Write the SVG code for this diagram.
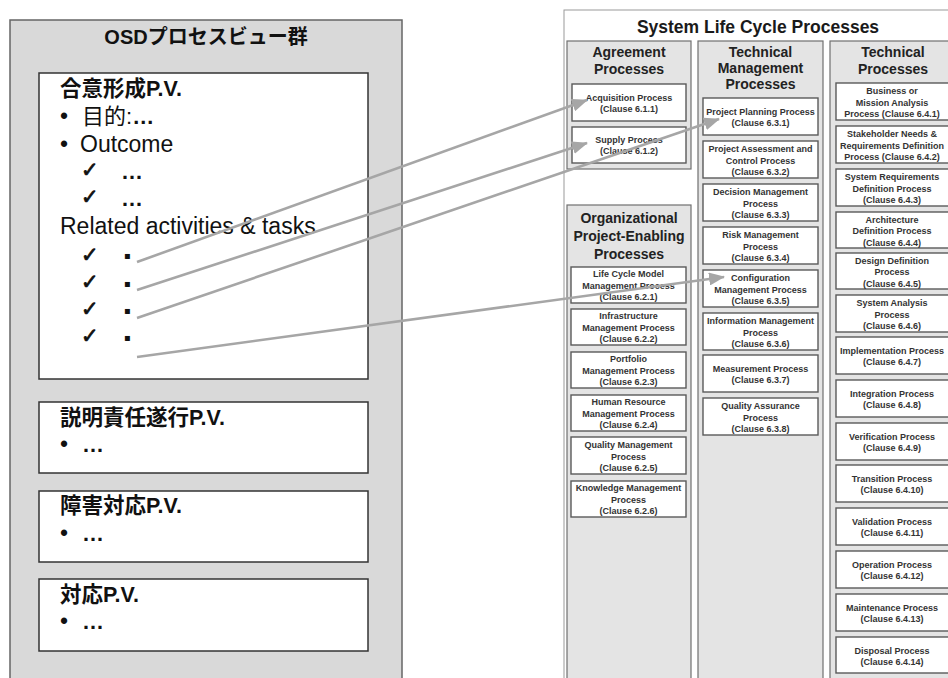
<svg xmlns="http://www.w3.org/2000/svg" width="948" height="678" viewBox="0 0 948 678">
  <style>
    text { font-family: 'Liberation Sans', 'Noto Sans CJK JP', sans-serif; fill: #111; }
    .panel { fill: #d9d9d9; stroke: #666; stroke-width: 1.5; }
    .pv { fill: #fff; stroke: #333; stroke-width: 1.5; }
    .ttl { font-size: 20px; font-weight: bold; text-anchor: middle; }
    .pvh { font-size: 21.5px; font-weight: bold; }
    .body { font-size: 23px; }
    .cjk { font-size: 22px; }
    .dots { font-size: 22px; font-weight: bold; }
    .chk { font-family: 'DejaVu Sans', sans-serif; font-size: 21px; font-weight: bold; stroke: #111; stroke-width: 0.8; }
    .sq { font-family: 'DejaVu Sans', sans-serif; font-size: 10px; }
    .slc { fill: #fff; stroke: #9a9a9a; stroke-width: 1; }
    .slct { font-size: 17.5px; font-weight: bold; text-anchor: middle; fill: #1a1a1a; }
    .col { fill: #e4e4e4; stroke: #707070; stroke-width: 1.2; }
    .colt { font-size: 14px; font-weight: bold; text-anchor: middle; fill: #222; }
    .box { fill: #fff; stroke: #5a5a5a; stroke-width: 1.4; }
    .bt { font-size: 9px; font-weight: bold; text-anchor: middle; fill: #333; }
    .conn { stroke: #a6a6a6; stroke-width: 2.6; fill: none; }
  </style>
  <defs>
    <marker id="arr" viewBox="0 0 16 13" refX="15" refY="6.5" markerWidth="16" markerHeight="13" markerUnits="userSpaceOnUse" orient="auto">
      <path d="M0,0 L16,6.5 L0,13 z" fill="#a6a6a6"/>
    </marker>
  </defs>

  <!-- OSD process view group -->
  <g id="osd-views">
    <rect class="panel" x="10" y="20" width="392" height="700"/>
    <text class="ttl" x="206" y="44">OSDプロセスビュー群</text>
  </g>

  <g id="pv-agreement">
    <rect class="pv" x="39" y="73" width="329" height="306"/>
    <text class="pvh" x="60" y="96">合意形成P.V.</text>
    <text class="body" x="60" y="124">•</text>
    <text class="cjk" x="82" y="124">目的:<tspan font-weight="bold">…</tspan></text>
    <text class="body" x="60" y="152">•</text>
    <text class="body" x="80" y="152">Outcome</text>
    <text class="chk" x="81" y="177">✓</text>
    <text class="dots" x="121" y="179">…</text>
    <text class="chk" x="81" y="204">✓</text>
    <text class="dots" x="121" y="206">…</text>
    <text class="body" x="60" y="234">Related activities &amp; tasks</text>
    <text class="chk" x="81" y="262">✓</text>
    <text class="sq" x="124" y="259">▪</text>
    <text class="chk" x="81" y="289">✓</text>
    <text class="sq" x="124" y="287">▪</text>
    <text class="chk" x="81" y="316">✓</text>
    <text class="sq" x="124" y="314">▪</text>
    <text class="chk" x="81" y="343">✓</text>
    <text class="sq" x="124" y="341">▪</text>
  </g>

  <g id="pv-accountability">
    <rect class="pv" x="39" y="402" width="329" height="71"/>
    <text class="pvh" x="60" y="425">説明責任遂行P.V.</text>
    <text class="body" x="60" y="452">•</text>
    <text class="dots" x="82" y="452">…</text>
  </g>

  <g id="pv-incident">
    <rect class="pv" x="39" y="491" width="329" height="71"/>
    <text class="pvh" x="60" y="513">障害対応P.V.</text>
    <text class="body" x="60" y="541">•</text>
    <text class="dots" x="82" y="541">…</text>
  </g>

  <g id="pv-response">
    <rect class="pv" x="39" y="579" width="329" height="72"/>
    <text class="pvh" x="60" y="602">対応P.V.</text>
    <text class="body" x="60" y="629">•</text>
    <text class="dots" x="82" y="629">…</text>
  </g>

  <!-- System life cycle processes -->
  <g id="slc">
    <rect class="slc" x="564" y="10" width="400" height="700"/>
    <text class="slct" x="758" y="33">System Life Cycle Processes</text>
  </g>

  <g id="col-agreement">
    <rect class="col" x="567" y="41" width="124" height="128"/>
    <text class="colt" x="629" y="57">Agreement</text>
    <text class="colt" x="629" y="74">Processes</text>
  </g>
  <g id="p611">
    <rect class="box" x="572" y="84" width="114" height="37"/>
    <text class="bt" x="629" y="101">Acquisition Process</text>
    <text class="bt" x="629" y="112">(Clause 6.1.1)</text>
  </g>
  <g id="p612">
    <rect class="box" x="572" y="127" width="114" height="36"/>
    <text class="bt" x="629" y="143">Supply Process</text>
    <text class="bt" x="629" y="154">(Clause 6.1.2)</text>
  </g>

  <g id="col-org">
    <rect class="col" x="567" y="205" width="124" height="500"/>
    <text class="colt" x="629" y="223">Organizational</text>
    <text class="colt" x="629" y="241">Project-Enabling</text>
    <text class="colt" x="629" y="259">Processes</text>
  </g>
  <g id="p621">
    <rect class="box" x="571" y="267" width="115" height="36"/>
    <text class="bt" x="628.5" y="277">Life Cycle Model</text>
    <text class="bt" x="628.5" y="288.5">Management Process</text>
    <text class="bt" x="628.5" y="300">(Clause 6.2.1)</text>
  </g>
  <g id="p622">
    <rect class="box" x="571" y="309" width="115" height="36"/>
    <text class="bt" x="628.5" y="319">Infrastructure</text>
    <text class="bt" x="628.5" y="330.5">Management Process</text>
    <text class="bt" x="628.5" y="342">(Clause 6.2.2)</text>
  </g>
  <g id="p623">
    <rect class="box" x="571" y="352" width="115" height="36"/>
    <text class="bt" x="628.5" y="362">Portfolio</text>
    <text class="bt" x="628.5" y="373.5">Management Process</text>
    <text class="bt" x="628.5" y="385">(Clause 6.2.3)</text>
  </g>
  <g id="p624">
    <rect class="box" x="571" y="395" width="115" height="36"/>
    <text class="bt" x="628.5" y="405">Human Resource</text>
    <text class="bt" x="628.5" y="416.5">Management Process</text>
    <text class="bt" x="628.5" y="428">(Clause 6.2.4)</text>
  </g>
  <g id="p625">
    <rect class="box" x="571" y="437" width="115" height="37"/>
    <text class="bt" x="628.5" y="448">Quality Management</text>
    <text class="bt" x="628.5" y="459.5">Process</text>
    <text class="bt" x="628.5" y="471">(Clause 6.2.5)</text>
  </g>
  <g id="p626">
    <rect class="box" x="571" y="481" width="115" height="36"/>
    <text class="bt" x="628.5" y="491">Knowledge Management</text>
    <text class="bt" x="628.5" y="502.5">Process</text>
    <text class="bt" x="628.5" y="514">(Clause 6.2.6)</text>
  </g>

  <g id="col-techmgmt">
    <rect class="col" x="698" y="41" width="125" height="670"/>
    <text class="colt" x="760.5" y="57">Technical</text>
    <text class="colt" x="760.5" y="73">Management</text>
    <text class="colt" x="760.5" y="89">Processes</text>
  </g>
  <g id="p631">
    <rect class="box" x="703" y="98" width="115" height="37"/>
    <text class="bt" x="760.5" y="115">Project Planning Process</text>
    <text class="bt" x="760.5" y="126">(Clause 6.3.1)</text>
  </g>
  <g id="p632">
    <rect class="box" x="703" y="141" width="115" height="37"/>
    <text class="bt" x="760.5" y="152">Project Assessment and</text>
    <text class="bt" x="760.5" y="163.5">Control Process</text>
    <text class="bt" x="760.5" y="175">(Clause 6.3.2)</text>
  </g>
  <g id="p633">
    <rect class="box" x="703" y="184" width="115" height="37"/>
    <text class="bt" x="760.5" y="195">Decision Management</text>
    <text class="bt" x="760.5" y="206.5">Process</text>
    <text class="bt" x="760.5" y="218">(Clause 6.3.3)</text>
  </g>
  <g id="p634">
    <rect class="box" x="703" y="227" width="115" height="37"/>
    <text class="bt" x="760.5" y="238">Risk Management</text>
    <text class="bt" x="760.5" y="249.5">Process</text>
    <text class="bt" x="760.5" y="261">(Clause 6.3.4)</text>
  </g>
  <g id="p635">
    <rect class="box" x="703" y="270" width="115" height="37"/>
    <text class="bt" x="760.5" y="281">Configuration</text>
    <text class="bt" x="760.5" y="292.5">Management Process</text>
    <text class="bt" x="760.5" y="304">(Clause 6.3.5)</text>
  </g>
  <g id="p636">
    <rect class="box" x="703" y="313" width="115" height="37"/>
    <text class="bt" x="760.5" y="324">Information Management</text>
    <text class="bt" x="760.5" y="335.5">Process</text>
    <text class="bt" x="760.5" y="347">(Clause 6.3.6)</text>
  </g>
  <g id="p637">
    <rect class="box" x="703" y="355" width="115" height="37"/>
    <text class="bt" x="760.5" y="372">Measurement Process</text>
    <text class="bt" x="760.5" y="383">(Clause 6.3.7)</text>
  </g>
  <g id="p638">
    <rect class="box" x="703" y="398" width="115" height="37"/>
    <text class="bt" x="760.5" y="409">Quality Assurance</text>
    <text class="bt" x="760.5" y="420.5">Process</text>
    <text class="bt" x="760.5" y="432">(Clause 6.3.8)</text>
  </g>

  <g id="col-technical">
    <rect class="col" x="830" y="41" width="130" height="670"/>
    <text class="colt" x="893" y="57">Technical</text>
    <text class="colt" x="893" y="74">Processes</text>
  </g>
  <g id="p641">
    <rect class="box" x="836" y="83" width="120" height="37"/>
    <text class="bt" x="892" y="94">Business or</text>
    <text class="bt" x="892" y="105.5">Mission Analysis</text>
    <text class="bt" x="892" y="117">Process (Clause 6.4.1)</text>
  </g>
  <g id="p642">
    <rect class="box" x="836" y="126" width="120" height="37"/>
    <text class="bt" x="892" y="137">Stakeholder Needs &amp;</text>
    <text class="bt" x="892" y="148.5">Requirements Definition</text>
    <text class="bt" x="892" y="160">Process (Clause 6.4.2)</text>
  </g>
  <g id="p643">
    <rect class="box" x="836" y="169" width="120" height="37"/>
    <text class="bt" x="892" y="180">System Requirements</text>
    <text class="bt" x="892" y="191.5">Definition Process</text>
    <text class="bt" x="892" y="203">(Clause 6.4.3)</text>
  </g>
  <g id="p644">
    <rect class="box" x="836" y="212" width="120" height="36"/>
    <text class="bt" x="892" y="222.5">Architecture</text>
    <text class="bt" x="892" y="234">Definition Process</text>
    <text class="bt" x="892" y="245.5">(Clause 6.4.4)</text>
  </g>
  <g id="p645">
    <rect class="box" x="836" y="253" width="120" height="36"/>
    <text class="bt" x="892" y="263.5">Design Definition</text>
    <text class="bt" x="892" y="275">Process</text>
    <text class="bt" x="892" y="286.5">(Clause 6.4.5)</text>
  </g>
  <g id="p646">
    <rect class="box" x="836" y="295" width="120" height="37"/>
    <text class="bt" x="892" y="306">System Analysis</text>
    <text class="bt" x="892" y="317.5">Process</text>
    <text class="bt" x="892" y="329">(Clause 6.4.6)</text>
  </g>
  <g id="p647">
    <rect class="box" x="836" y="337" width="120" height="37"/>
    <text class="bt" x="892" y="354">Implementation Process</text>
    <text class="bt" x="892" y="365">(Clause 6.4.7)</text>
  </g>
  <g id="p648">
    <rect class="box" x="836" y="380" width="120" height="37"/>
    <text class="bt" x="892" y="397">Integration Process</text>
    <text class="bt" x="892" y="408">(Clause 6.4.8)</text>
  </g>
  <g id="p649">
    <rect class="box" x="836" y="423" width="120" height="37"/>
    <text class="bt" x="892" y="440">Verification Process</text>
    <text class="bt" x="892" y="451">(Clause 6.4.9)</text>
  </g>
  <g id="p6410">
    <rect class="box" x="836" y="465" width="120" height="37"/>
    <text class="bt" x="892" y="482">Transition Process</text>
    <text class="bt" x="892" y="493">(Clause 6.4.10)</text>
  </g>
  <g id="p6411">
    <rect class="box" x="836" y="508" width="120" height="37"/>
    <text class="bt" x="892" y="525">Validation Process</text>
    <text class="bt" x="892" y="536">(Clause 6.4.11)</text>
  </g>
  <g id="p6412">
    <rect class="box" x="836" y="551" width="120" height="37"/>
    <text class="bt" x="892" y="568">Operation Process</text>
    <text class="bt" x="892" y="579">(Clause 6.4.12)</text>
  </g>
  <g id="p6413">
    <rect class="box" x="836" y="594" width="120" height="37"/>
    <text class="bt" x="892" y="611">Maintenance Process</text>
    <text class="bt" x="892" y="622">(Clause 6.4.13)</text>
  </g>
  <g id="p6414">
    <rect class="box" x="836" y="637" width="120" height="36"/>
    <text class="bt" x="892" y="653.5">Disposal Process</text>
    <text class="bt" x="892" y="664.5">(Clause 6.4.14)</text>
  </g>

  <!-- mapping from activities/tasks to life cycle processes -->
  <g id="connectors">
    <line class="conn" x1="137" y1="262" x2="587" y2="100" marker-end="url(#arr)"/>
    <line class="conn" x1="137" y1="290" x2="587" y2="143" marker-end="url(#arr)"/>
    <line class="conn" x1="137" y1="318" x2="719" y2="119" marker-end="url(#arr)"/>
    <line class="conn" x1="137" y1="357" x2="724" y2="277" marker-end="url(#arr)"/>
  </g>
</svg>
